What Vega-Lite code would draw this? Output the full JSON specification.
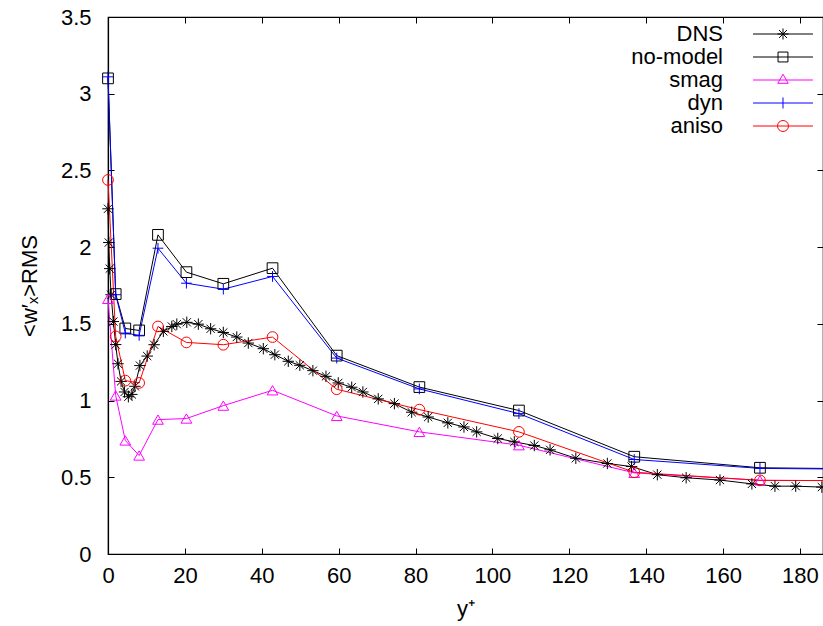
{
  "$schema": "https://vega.github.io/schema/vega-lite/v6.json",
  "width": 715,
  "height": 537,
  "autosize": {"type": "none"},
  "padding": {"left": 108, "top": 17, "right": 0, "bottom": 72},
  "background": "white",
  "config": {
    "font": "Liberation Sans",
    "view": {"stroke": "#000000", "strokeWidth": 1.2},
    "axis": {
      "grid": false,
      "domainColor": "#000000",
      "domainWidth": 1.2,
      "tickColor": "#000000",
      "tickWidth": 1,
      "tickSize": -6,
      "labelFlush": false,
      "labelOverlap": false,
      "labelColor": "#000000",
      "titleColor": "#000000",
      "labelFont": "Liberation Sans",
      "titleFont": "Liberation Sans",
      "labelFontSize": 22,
      "titleFontSize": 22,
      "titleFontWeight": "normal"
    },
    "point": {"filled": false, "strokeWidth": 1, "size": 115, "opacity": 1}
  },
  "data": {
    "values": [
      {"s": "DNS", "y": 0, "w": 2.25},
      {"s": "DNS", "y": 0.2, "w": 2.03},
      {"s": "DNS", "y": 0.45, "w": 1.86},
      {"s": "DNS", "y": 0.8, "w": 1.69},
      {"s": "DNS", "y": 1.4, "w": 1.515},
      {"s": "DNS", "y": 2.0, "w": 1.365},
      {"s": "DNS", "y": 2.6, "w": 1.24},
      {"s": "DNS", "y": 3.4, "w": 1.125},
      {"s": "DNS", "y": 4.3, "w": 1.056},
      {"s": "DNS", "y": 5.3, "w": 1.025},
      {"s": "DNS", "y": 6.2, "w": 1.04},
      {"s": "DNS", "y": 7.0, "w": 1.093},
      {"s": "DNS", "y": 8.3, "w": 1.228},
      {"s": "DNS", "y": 10.2, "w": 1.29},
      {"s": "DNS", "y": 12.0, "w": 1.364},
      {"s": "DNS", "y": 14.4, "w": 1.451},
      {"s": "DNS", "y": 16.6, "w": 1.483},
      {"s": "DNS", "y": 17.9, "w": 1.498},
      {"s": "DNS", "y": 20.5, "w": 1.51},
      {"s": "DNS", "y": 23.5, "w": 1.498},
      {"s": "DNS", "y": 26.7, "w": 1.468},
      {"s": "DNS", "y": 30.0, "w": 1.444},
      {"s": "DNS", "y": 33.5, "w": 1.414},
      {"s": "DNS", "y": 36.5, "w": 1.375},
      {"s": "DNS", "y": 40.4, "w": 1.338},
      {"s": "DNS", "y": 43.4, "w": 1.299},
      {"s": "DNS", "y": 46.9, "w": 1.256},
      {"s": "DNS", "y": 49.9, "w": 1.23},
      {"s": "DNS", "y": 53.3, "w": 1.195},
      {"s": "DNS", "y": 56.7, "w": 1.158},
      {"s": "DNS", "y": 59.9, "w": 1.115},
      {"s": "DNS", "y": 63.4, "w": 1.087},
      {"s": "DNS", "y": 66.3, "w": 1.056},
      {"s": "DNS", "y": 70.3, "w": 1.011},
      {"s": "DNS", "y": 74.5, "w": 0.98},
      {"s": "DNS", "y": 79.0, "w": 0.924},
      {"s": "DNS", "y": 83.3, "w": 0.893},
      {"s": "DNS", "y": 88.4, "w": 0.855},
      {"s": "DNS", "y": 92.6, "w": 0.828},
      {"s": "DNS", "y": 95.9, "w": 0.796},
      {"s": "DNS", "y": 101.4, "w": 0.753},
      {"s": "DNS", "y": 105.7, "w": 0.731},
      {"s": "DNS", "y": 110.9, "w": 0.707},
      {"s": "DNS", "y": 115.0, "w": 0.679},
      {"s": "DNS", "y": 121.7, "w": 0.624},
      {"s": "DNS", "y": 129.9, "w": 0.59},
      {"s": "DNS", "y": 136.2, "w": 0.57},
      {"s": "DNS", "y": 142.9, "w": 0.517},
      {"s": "DNS", "y": 150.4, "w": 0.497},
      {"s": "DNS", "y": 159.2, "w": 0.482},
      {"s": "DNS", "y": 167.5, "w": 0.457},
      {"s": "DNS", "y": 173.5, "w": 0.442},
      {"s": "DNS", "y": 178.9, "w": 0.442},
      {"s": "DNS", "y": 185.7, "w": 0.436},

      {"s": "no-model", "y": 0, "w": 3.1},
      {"s": "no-model", "y": 2.0, "w": 1.694},
      {"s": "no-model", "y": 4.5, "w": 1.47},
      {"s": "no-model", "y": 8.1, "w": 1.457},
      {"s": "no-model", "y": 13.0, "w": 2.08},
      {"s": "no-model", "y": 20.4, "w": 1.837},
      {"s": "no-model", "y": 30.0, "w": 1.761},
      {"s": "no-model", "y": 42.8, "w": 1.863},
      {"s": "no-model", "y": 59.5, "w": 1.293},
      {"s": "no-model", "y": 81.0, "w": 1.088},
      {"s": "no-model", "y": 106.9, "w": 0.935},
      {"s": "no-model", "y": 136.9, "w": 0.634},
      {"s": "no-model", "y": 169.6, "w": 0.562},
      {"s": "no-model", "y": 205, "w": 0.553},

      {"s": "smag", "y": 0, "w": 1.663},
      {"s": "smag", "y": 2.0, "w": 1.033},
      {"s": "smag", "y": 4.5, "w": 0.74},
      {"s": "smag", "y": 8.1, "w": 0.642},
      {"s": "smag", "y": 13.0, "w": 0.876},
      {"s": "smag", "y": 20.4, "w": 0.883},
      {"s": "smag", "y": 30.0, "w": 0.967},
      {"s": "smag", "y": 42.8, "w": 1.067},
      {"s": "smag", "y": 59.5, "w": 0.9},
      {"s": "smag", "y": 81.0, "w": 0.796},
      {"s": "smag", "y": 106.9, "w": 0.709},
      {"s": "smag", "y": 136.9, "w": 0.529},
      {"s": "smag", "y": 169.6, "w": 0.48},
      {"s": "smag", "y": 205, "w": 0.477},

      {"s": "dyn", "y": 0, "w": 3.11},
      {"s": "dyn", "y": 2.0, "w": 1.69},
      {"s": "dyn", "y": 4.5, "w": 1.44},
      {"s": "dyn", "y": 8.1, "w": 1.425},
      {"s": "dyn", "y": 13.0, "w": 1.993},
      {"s": "dyn", "y": 20.4, "w": 1.765},
      {"s": "dyn", "y": 30.0, "w": 1.726},
      {"s": "dyn", "y": 42.8, "w": 1.809},
      {"s": "dyn", "y": 59.5, "w": 1.277},
      {"s": "dyn", "y": 81.0, "w": 1.076},
      {"s": "dyn", "y": 106.9, "w": 0.915},
      {"s": "dyn", "y": 136.9, "w": 0.616},
      {"s": "dyn", "y": 169.6, "w": 0.558},
      {"s": "dyn", "y": 205, "w": 0.55},

      {"s": "aniso", "y": 0, "w": 2.438},
      {"s": "aniso", "y": 2.0, "w": 1.418},
      {"s": "aniso", "y": 4.5, "w": 1.13},
      {"s": "aniso", "y": 8.1, "w": 1.115},
      {"s": "aniso", "y": 13.0, "w": 1.483},
      {"s": "aniso", "y": 20.4, "w": 1.379},
      {"s": "aniso", "y": 30.0, "w": 1.364},
      {"s": "aniso", "y": 42.8, "w": 1.414},
      {"s": "aniso", "y": 59.5, "w": 1.074},
      {"s": "aniso", "y": 81.0, "w": 0.941},
      {"s": "aniso", "y": 106.9, "w": 0.796},
      {"s": "aniso", "y": 136.9, "w": 0.533},
      {"s": "aniso", "y": 169.6, "w": 0.48},
      {"s": "aniso", "y": 205, "w": 0.477}
    ]
  },
  "resolve": {"axis": {"x": "independent", "y": "independent"}},
  "layer": [
    {
      "mark": {"type": "line", "strokeWidth": 1, "clip": false},
      "encoding": {
        "x": {
          "field": "y", "type": "quantitative",
          "scale": {"domain": [0, 186], "nice": false, "zero": false},
          "axis": {"orient": "bottom", "values": [0, 20, 40, 60, 80, 100, 120, 140, 160, 180], "title": "y⁺", "labelPadding": 17, "titlePadding": 12, "format": "d"}
        },
        "y": {
          "field": "w", "type": "quantitative",
          "scale": {"domain": [0, 3.5], "nice": false},
          "axis": {"orient": "left", "values": [0, 0.5, 1, 1.5, 2, 2.5, 3, 3.5], "title": "<w′ₓ>RMS", "labelPadding": 23, "titlePadding": 19, "format": ".2~r"}
        },
        "color": {
          "field": "s", "type": "nominal",
          "scale": {"domain": ["DNS", "no-model", "smag", "dyn", "aniso"], "range": ["#000000", "#000000", "#ff00ff", "#0000ff", "#ff0000"]},
          "legend": {
            "orient": "none",
            "legendX": 644,
            "legendY": 6,
            "title": null,
            "padding": 0,
            "labelAlign": "right",
            "labelOffset": -65,
            "symbolOffset": 14,
            "labelFont": "Liberation Sans",
            "labelFontSize": 22,
            "labelColor": "#000000",
            "symbolSize": 121,
            "symbolStrokeWidth": 1,
            "symbolFillColor": "transparent",
            "rowPadding": 1,
            "labelLimit": 300,
            "encode": {
              "symbols": {
                "update": {
                  "fill": {"value": "transparent"},
                  "strokeWidth": {"value": 1},
                  "shape": {"signal": "datum.value === 'DNS' ? 'M-4.36,0H6.54M0.09,0H2.09M1.09,-1V1M0.37,-0.72L1.81,0.72M0.37,0.72L1.81,-0.72' : datum.value === 'no-model' ? 'M-4.36,0H6.54M0.19,-0.9H1.99V0.9H0.19Z' : datum.value === 'smag' ? 'M-4.36,0H6.54M1.09,-1.05L2.04,0.6L0.14,0.6Z' : datum.value === 'dyn' ? 'M-4.36,0H6.54M1.09,-1V1' : 'M-4.36,0H6.54M2.09,0A1,1 0 1,1 0.09,0A1,1 0 1,1 2.09,0Z'"}
                }
              }
            }
          }
        }
      }
    },
    {
      "transform": [{"filter": "datum.s === 'DNS'"}],
      "mark": {"type": "point", "shape": "M-1,0H1M0,-1V1M-0.72,-0.72L0.72,0.72M-0.72,0.72L0.72,-0.72", "clip": false, "size": 130},
      "encoding": {
        "x": {"field": "y", "type": "quantitative", "axis": {"orient": "top", "values": [0, 20, 40, 60, 80, 100, 120, 140, 160, 180], "labels": false, "title": null, "domain": false}},
        "y": {"field": "w", "type": "quantitative", "axis": {"orient": "right", "values": [0, 0.5, 1, 1.5, 2, 2.5, 3, 3.5], "labels": false, "title": null, "domain": false}},
        "color": {"field": "s", "type": "nominal", "legend": null}
      }
    },
    {
      "transform": [{"filter": "datum.s === 'no-model'"}],
      "mark": {"type": "point", "shape": "square", "clip": false},
      "encoding": {
        "x": {"field": "y", "type": "quantitative", "axis": null},
        "y": {"field": "w", "type": "quantitative", "axis": null},
        "color": {"field": "s", "type": "nominal", "legend": null}
      }
    },
    {
      "transform": [{"filter": "datum.s === 'smag'"}],
      "mark": {"type": "point", "shape": "triangle-up", "clip": false},
      "encoding": {
        "x": {"field": "y", "type": "quantitative", "axis": null},
        "y": {"field": "w", "type": "quantitative", "axis": null},
        "color": {"field": "s", "type": "nominal", "legend": null}
      }
    },
    {
      "transform": [{"filter": "datum.s === 'dyn'"}],
      "mark": {"type": "point", "shape": "M-1,0H1M0,-1V1", "clip": false},
      "encoding": {
        "x": {"field": "y", "type": "quantitative", "axis": null},
        "y": {"field": "w", "type": "quantitative", "axis": null},
        "color": {"field": "s", "type": "nominal", "legend": null}
      }
    },
    {
      "transform": [{"filter": "datum.s === 'aniso'"}],
      "mark": {"type": "point", "shape": "circle", "clip": false},
      "encoding": {
        "x": {"field": "y", "type": "quantitative", "axis": null},
        "y": {"field": "w", "type": "quantitative", "axis": null},
        "color": {"field": "s", "type": "nominal", "legend": null}
      }
    }
  ]
}
